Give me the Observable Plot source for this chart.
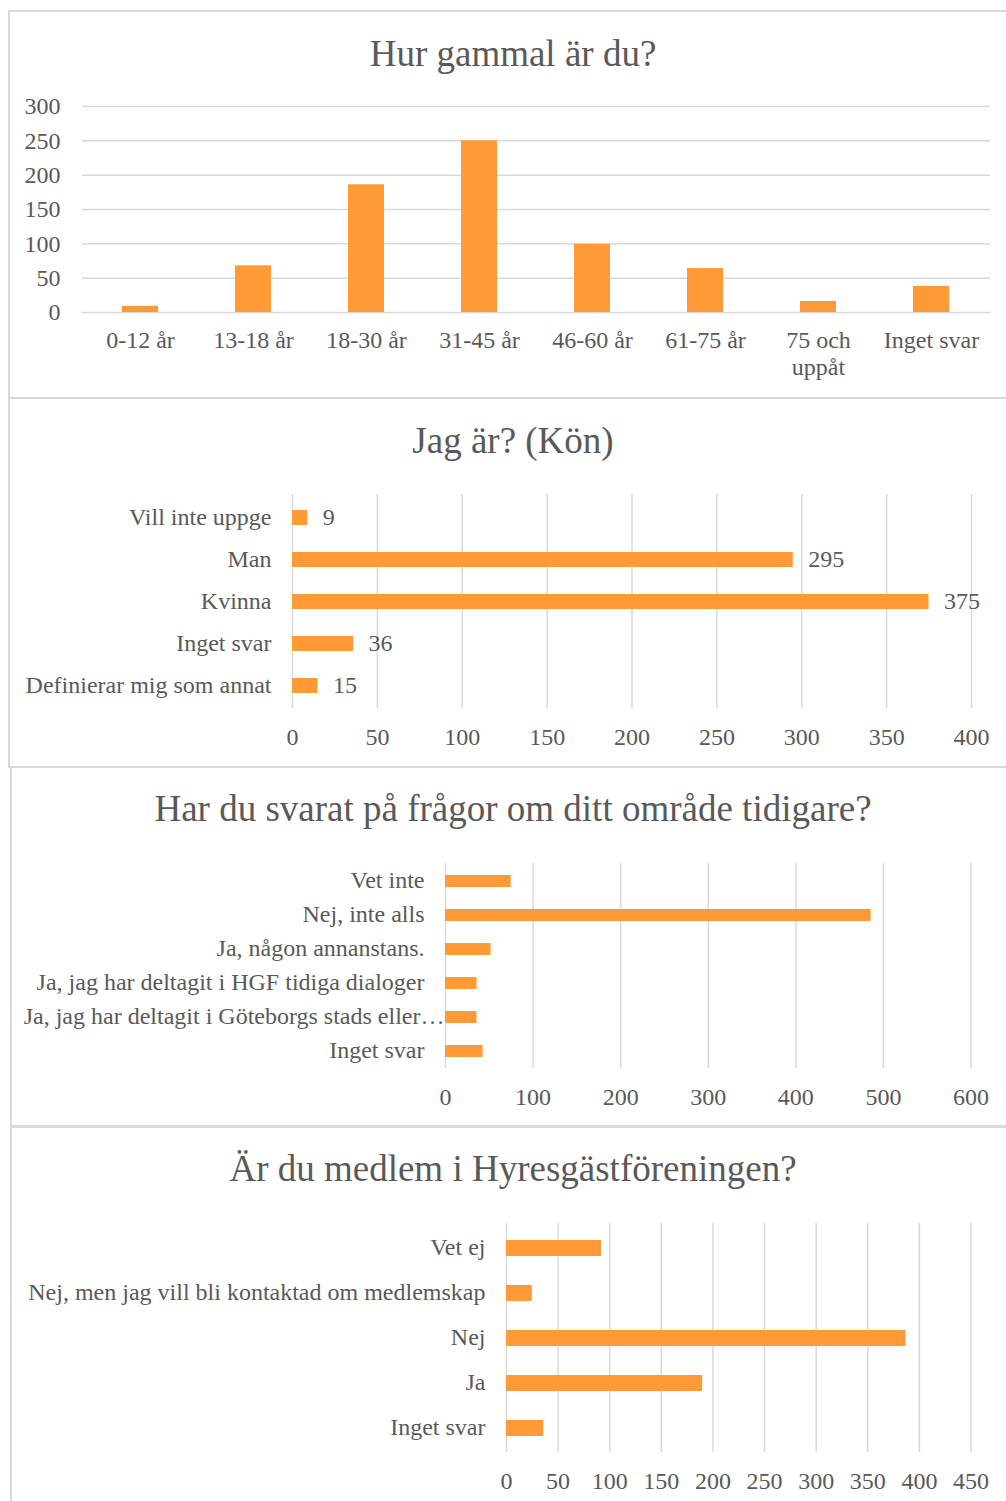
<!DOCTYPE html>
<html>
<head>
<meta charset="utf-8">
<script src="https://cdn.jsdelivr.net/npm/d3@7"></script>
<script src="https://cdn.jsdelivr.net/npm/@observablehq/plot@0.6"></script>
<style>
  body { margin: 0; background: #ffffff; }
  #page { position: relative; width: 1006px; height: 1501px; overflow: hidden; background: #ffffff;
          font-family: "Liberation Serif", "Times New Roman", serif; color: #595959; }
  .panel { position: absolute; box-sizing: border-box; border: 2px solid #d9d9d9; width: 1030px; }
  .title { position: absolute; left: 0; width: 1026px; text-align: center; font-size: 37px; line-height: 1; white-space: nowrap; }
  .chart { position: absolute; left: 0; }
</style>
</head>
<body>
<div id="page">
  <div class="panel" style="left:8px;top:10px;height:389px;"></div>
  <div class="panel" style="left:8px;top:397px;height:371px;"></div>
  <div class="panel" style="left:10px;top:766px;height:361px;"></div>
  <div class="panel" style="left:10px;top:1126px;height:400px;"></div>
  <div class="title" style="top:35px;">Hur gammal är du?</div>
  <div class="title" style="top:422px;">Jag är? (Kön)</div>
  <div class="title" style="top:790px;">Har du svarat på frågor om ditt område tidigare?</div>
  <div class="title" style="top:1150px;">Är du medlem i Hyresgästföreningen?</div>
</div>
<script>
// ---- Data ----
const ageCategories = ["0-12 år", "13-18 år", "18-30 år", "31-45 år", "46-60 år", "61-75 år", "75 och uppåt", "Inget svar"];
const ageCounts = [9, 68, 186, 250, 99, 64, 16, 38];
const ageTicks = [0, 50, 100, 150, 200, 250, 300];

const genderCategories = ["Vill inte uppge", "Man", "Kvinna", "Inget svar", "Definierar mig som annat"];
const genderCounts = [9, 295, 375, 36, 15];
const genderTicks = [0, 50, 100, 150, 200, 250, 300, 350, 400];

const priorCategories = ["Vet inte", "Nej, inte alls", "Ja, någon annanstans.", "Ja, jag har deltagit i HGF tidiga dialoger", "Ja, jag har deltagit i Göteborgs stads eller…", "Inget svar"];
const priorCounts = [75, 486, 52, 36, 36, 43];
const priorTicks = [0, 100, 200, 300, 400, 500, 600];

const memberCategories = ["Vet ej", "Nej, men jag vill bli kontaktad om medlemskap", "Nej", "Ja", "Inget svar"];
const memberCounts = [92, 25, 387, 190, 36];
const memberTicks = [0, 50, 100, 150, 200, 250, 300, 350, 400, 450];

// ---- Styles ----
const orange = "#ff9a36";
const gridColor = "#d9d9d9";
const textColor = "#595959";
const fontFamily = '"Liberation Serif", "Times New Roman", serif';
const fs = 24;
const baseStyle = {fontFamily, fontSize: fs + "px", color: textColor, background: "transparent", overflow: "visible"};

const page = document.getElementById("page");
function place(svg, top) {
  svg.classList.add("chart");
  svg.style.position = "absolute";
  svg.style.left = "0px";
  svg.style.top = top + "px";
  page.appendChild(svg);
}

// ---- Chart 1: vertical bars ----
const ageData = ageCategories.map((c, i) => ({category: c, count: ageCounts[i]}));
place(Plot.plot({
  width: 1006, height: 310,
  marginLeft: 82, marginRight: 16, marginTop: 26, marginBottom: 78,
  style: baseStyle,
  x: {domain: ageCategories, paddingInner: 0.68, paddingOuter: 0.34, label: null},
  y: {domain: [0, 300], label: null},
  marks: [
    Plot.gridY(ageTicks, {stroke: gridColor, strokeOpacity: 1, strokeWidth: 1.5}),
    Plot.barY(ageData, {x: "category", y: "count", fill: orange}),
    Plot.axisY(ageTicks, {tickSize: 0, tickPadding: 22, fontSize: fs, label: null}),
    Plot.axisX({tickSize: 0, tickPadding: 17, fontSize: fs, lineWidth: 5, lineHeight: 1.1, label: null})
  ]
}), 80);

// ---- Horizontal bar helper ----
function hbar({categories, counts, ticks, max, top, height, marginLeft, marginRight, marginTop, marginBottom, labels, longLabel}) {
  const data = categories.map((c, i) => ({category: c, count: counts[i]}));
  const marks = [
    Plot.gridX(ticks, {stroke: gridColor, strokeOpacity: 1, strokeWidth: 1.5}),
    Plot.barX(data, {y: "category", x: "count", fill: orange}),
    Plot.axisX(ticks, {tickSize: 0, tickPadding: 19, fontSize: fs, label: null}),
    Plot.axisY({tickSize: 0, tickPadding: 21, fontSize: fs, dy: -1, label: null,
                tickFormat: d => (d === longLabel ? "" : d)})
  ];
  if (longLabel) {
    marks.push(Plot.axisY([longLabel], {tickSize: 0, tickPadding: 1, fontSize: fs, dy: -1, label: null}));
  }
  if (labels) {
    marks.push(Plot.text(data, {x: "count", y: "category", text: d => String(d.count), dx: 15, dy: -1,
                                textAnchor: "start", fontSize: fs, fill: textColor}));
  }
  place(Plot.plot({
    width: 1006, height,
    marginLeft, marginRight, marginTop, marginBottom,
    style: baseStyle,
    x: {domain: [0, max], label: null},
    y: {domain: categories, paddingInner: 0.65, paddingOuter: 0.325, label: null},
    marks
  }), top);
}

// ---- Chart 2 ----
hbar({categories: genderCategories, counts: genderCounts, ticks: genderTicks, max: 400,
      top: 470, height: 290, marginLeft: 292, marginRight: 35, marginTop: 24, marginBottom: 52, labels: true});

// ---- Chart 3 ----
hbar({categories: priorCategories, counts: priorCounts, ticks: priorTicks, max: 600,
      top: 840, height: 280, marginLeft: 445, marginRight: 35.5, marginTop: 23, marginBottom: 52,
      longLabel: priorCategories[4]});

// ---- Chart 4 ----
hbar({categories: memberCategories, counts: memberCounts, ticks: memberTicks, max: 450,
      top: 1200, height: 301, marginLeft: 506, marginRight: 35.5, marginTop: 23, marginBottom: 49});
</script>
</body>
</html>
